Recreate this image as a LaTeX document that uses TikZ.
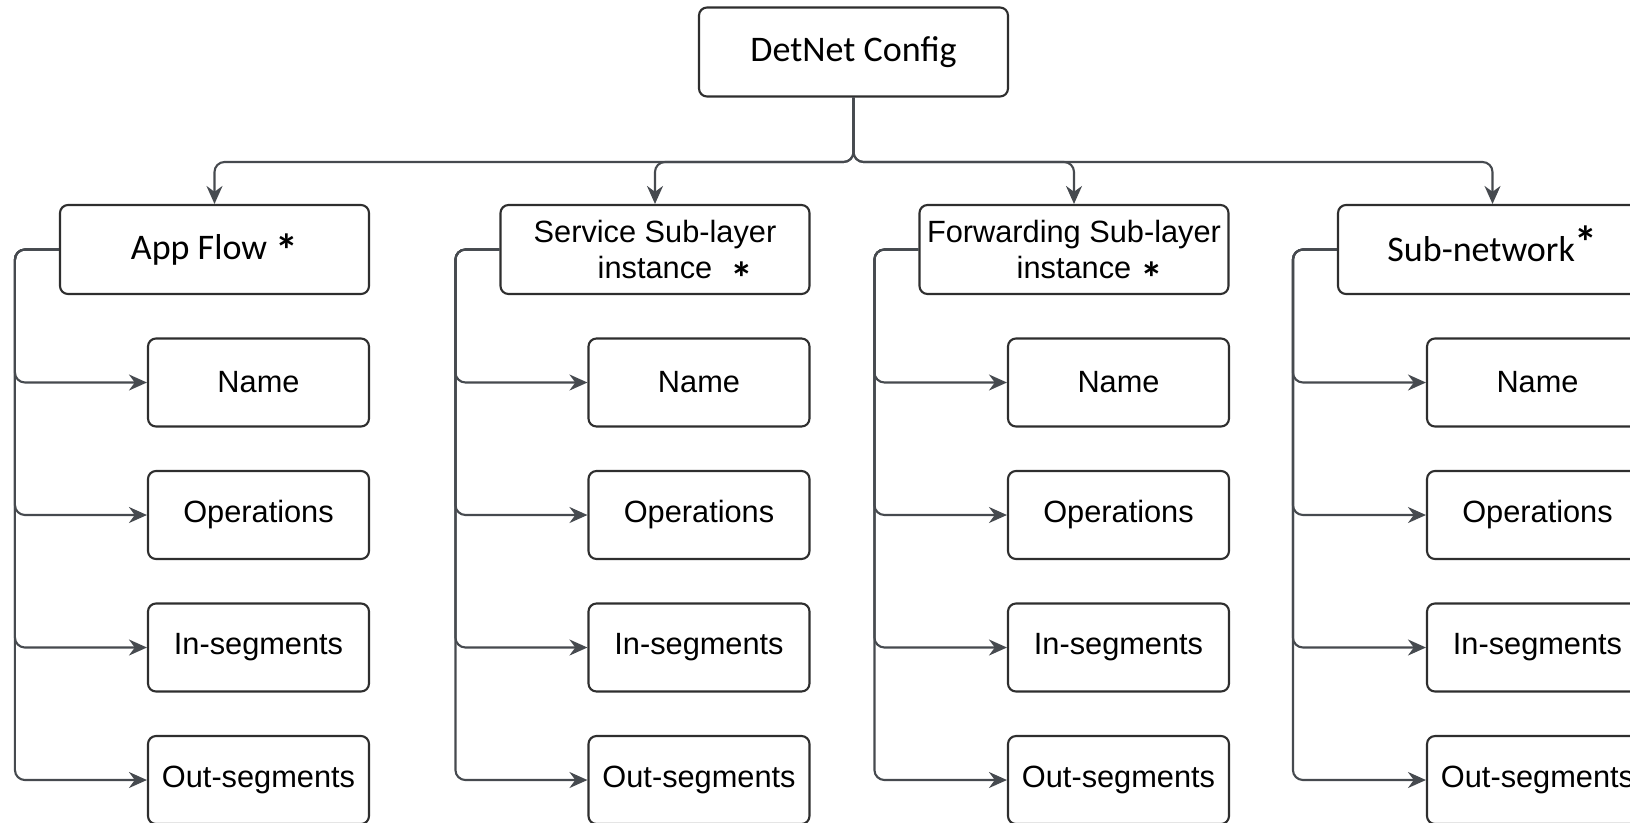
\documentclass[tikz,border=0pt]{standalone}
\usepackage{fontspec}
\setmainfont{Carlito}
\newfontfamily\arialfont{Liberation Sans}
\usepackage{tikz}
\usetikzlibrary{arrows.meta}
\usepackage{xcolor}

\definecolor{boxdark}{HTML}{2E2E2E}
\definecolor{linkgray}{HTML}{464A4F}

% asterisk mark, raised by #1
\newcommand{\flowmark}[1]{\smash{\raisebox{#1}{\normalfont\bfseries\fontsize{26}{26}\selectfont *}}}

\tikzset{
  topbox/.style={draw=boxdark, line width=1.2pt, rounded corners=1.6mm,
    minimum width=6.18cm, minimum height=1.78cm, inner sep=0pt, align=center,
    font=\fontsize{20.5}{24}\selectfont},
  attrbox/.style={draw=boxdark, line width=1.2pt, rounded corners=1.6mm,
    minimum width=4.42cm, minimum height=1.76cm, inner sep=0pt,
    font=\arialfont\fontsize{17.5}{20.5}\selectfont},
  link/.style={draw=linkgray, line width=1.2pt, rounded corners=2mm, ->},
}

\begin{document}
\begin{tikzpicture}[>={Stealth[length=3.6mm, width=3.2mm]}]
  \useasboundingbox (0,0) rectangle (32.6,-16.44);

  % Root
  \node[topbox] (cfg) at (17.07, -1.04) {DetNet Config};
  \coordinate (hub) at (17.07, -3.24);

  % App Flow
  \node[topbox] (af) at (4.29, -4.99) {App Flow \flowmark{-4pt}};
  \node[attrbox] (afname) at (5.17, -7.65) {Name};
  \node[attrbox] (afops) at (5.17, -10.30) {Operations};
  \node[attrbox] (afin) at (5.17, -12.95) {In-segments};
  \node[attrbox] (afout) at (5.17, -15.60) {Out-segments};

  % Service sub-layer
  \node[topbox, font=\arialfont\fontsize{17.5}{20.5}\selectfont] (ssl) at (13.10, -4.99)
    {Service Sub-layer\\instance\rlap{\hspace{0.6em}\flowmark{-9pt}}};
  \node[attrbox] (sslname) at (13.98, -7.65) {Name};
  \node[attrbox] (sslops) at (13.98, -10.30) {Operations};
  \node[attrbox] (sslin) at (13.98, -12.95) {In-segments};
  \node[attrbox] (sslout) at (13.98, -15.60) {Out-segments};

  % Forwarding sub-layer
  \node[topbox, font=\arialfont\fontsize{17.5}{20.5}\selectfont] (fsl) at (21.48, -4.99)
    {Forwarding Sub-layer\\instance\rlap{\hspace{0.3em}\flowmark{-9pt}}};
  \node[attrbox] (fslname) at (22.37, -7.65) {Name};
  \node[attrbox] (fslops) at (22.37, -10.30) {Operations};
  \node[attrbox] (fslin) at (22.37, -12.95) {In-segments};
  \node[attrbox] (fslout) at (22.37, -15.60) {Out-segments};

  % Sub-network
  \node[topbox] (sn) at (29.85, -4.99) {Sub-network\flowmark{2pt}};
  \node[attrbox] (snname) at (30.75, -7.65) {Name};
  \node[attrbox] (snops) at (30.75, -10.30) {Operations};
  \node[attrbox] (snin) at (30.75, -12.95) {In-segments};
  \node[attrbox] (snout) at (30.75, -15.60) {Out-segments};

  % Root to the four blocks
  \draw[link] (cfg.south) -- (hub) -| (af.north);
  \draw[link] (cfg.south) -- (hub) -| (ssl.north);
  \draw[link] (cfg.south) -- (hub) -| (fsl.north);
  \draw[link] (cfg.south) -- (hub) -| (sn.north);

  % Blocks to their fields
  \draw[link] (af.west) -- ++(-0.88,0) |- (afname.west);
  \draw[link] (af.west) -- ++(-0.88,0) |- (afops.west);
  \draw[link] (af.west) -- ++(-0.88,0) |- (afin.west);
  \draw[link] (af.west) -- ++(-0.88,0) |- (afout.west);

  \draw[link] (ssl.west) -- ++(-0.88,0) |- (sslname.west);
  \draw[link] (ssl.west) -- ++(-0.88,0) |- (sslops.west);
  \draw[link] (ssl.west) -- ++(-0.88,0) |- (sslin.west);
  \draw[link] (ssl.west) -- ++(-0.88,0) |- (sslout.west);

  \draw[link] (fsl.west) -- ++(-0.88,0) |- (fslname.west);
  \draw[link] (fsl.west) -- ++(-0.88,0) |- (fslops.west);
  \draw[link] (fsl.west) -- ++(-0.88,0) |- (fslin.west);
  \draw[link] (fsl.west) -- ++(-0.88,0) |- (fslout.west);

  \draw[link] (sn.west) -- ++(-0.88,0) |- (snname.west);
  \draw[link] (sn.west) -- ++(-0.88,0) |- (snops.west);
  \draw[link] (sn.west) -- ++(-0.88,0) |- (snin.west);
  \draw[link] (sn.west) -- ++(-0.88,0) |- (snout.west);
\end{tikzpicture}
\end{document}
